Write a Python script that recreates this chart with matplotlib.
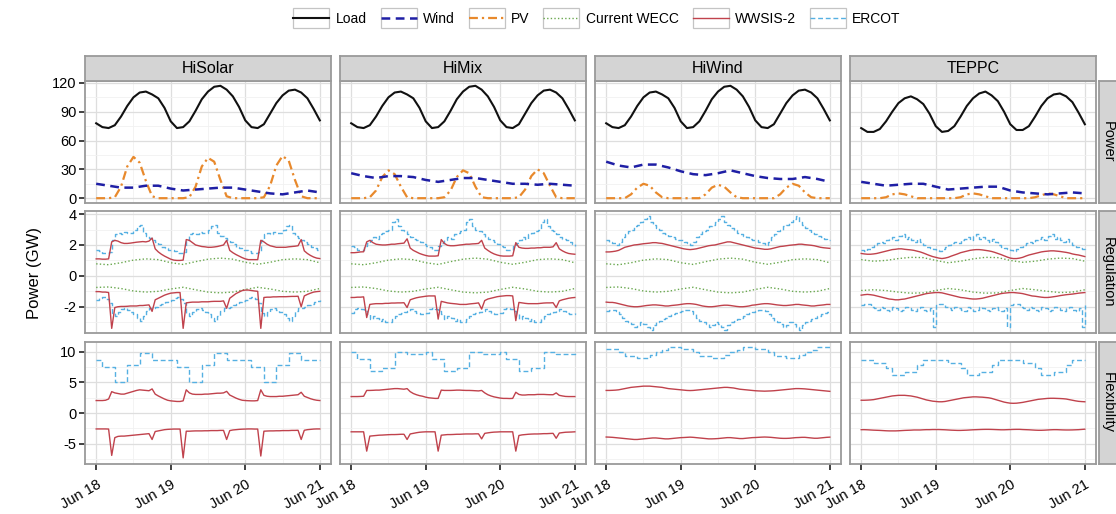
import numpy as np
import matplotlib.pyplot as plt
from matplotlib.lines import Line2D
from matplotlib.patches import Rectangle
from matplotlib.legend_handler import HandlerLine2D
from matplotlib.ticker import AutoMinorLocator

plt.rcParams['font.family'] = ['Liberation Sans', 'DejaVu Sans']

scenarios = ['HiSolar', 'HiMix', 'HiWind', 'TEPPC']
row_names = ['Power', 'Regulation', 'Flexibility']
day_labels = ['Jun 18', 'Jun 19', 'Jun 20', 'Jun 21']

# time stamps (hours from Jun 18 00:00)
hrs_1h = np.arange(0, 73)
hrs_2h = np.arange(0, 73, 2)
hrs_4h = np.arange(0, 73, 4)

# ---------------- Power (GW), 2-hourly / 4-hourly ----------------
load_wecc = [78, 74, 73, 76, 85, 96, 105, 110, 111, 108, 104, 94,
             80, 73, 74, 80, 91, 103, 111, 116, 117, 113, 106, 95,
             81, 74, 73, 77, 88, 99, 107, 112, 113, 110, 104, 93, 81]
load_teppc = [73, 69, 69, 72, 80, 90, 99, 104, 106, 103, 98, 88,
              75, 69, 70, 75, 85, 96, 104, 109, 111, 107, 101, 90,
              77, 71, 71, 75, 85, 96, 104, 108, 109, 106, 100, 89, 77]

wind_hisolar = [15, 13, 11, 11, 13, 13, 10, 8, 9, 10, 11, 11, 9, 7, 5, 4, 6, 8, 6]
wind_himix = [26, 23, 21, 23, 23, 22, 19, 17, 19, 21, 21, 19, 17, 15, 15, 14, 15, 14, 13]
wind_hiwind = [38, 34, 32, 35, 35, 32, 28, 25, 24, 26, 29, 26, 23, 21, 20, 20, 22, 20, 17]
wind_teppc = [17, 15, 13, 14, 15, 15, 12, 9, 10, 11, 12, 12, 8, 6, 5, 4, 5, 6, 5]

pv_hisolar = [0, 0, 0, 1, 12, 33, 43, 37, 18, 2, 0, 0,
              0, 0, 0, 1, 12, 33, 42, 38, 19, 2, 0, 0,
              0, 0, 0, 1, 13, 34, 44, 39, 19, 2, 0, 0, 0]
pv_himix = [0, 0, 0, 1, 8, 22, 29, 25, 12, 1, 0, 0,
            0, 0, 0, 1, 8, 22, 29, 26, 12, 1, 0, 0,
            0, 0, 0, 1, 9, 23, 30, 26, 13, 1, 0, 0, 0]
pv_hiwind = [0, 0, 0, 0, 4, 11, 15, 13, 6, 1, 0, 0,
             0, 0, 0, 0, 4, 11, 14, 12, 6, 1, 0, 0,
             0, 0, 0, 0, 4, 11, 15, 13, 6, 1, 0, 0, 0]
pv_teppc = [0, 0, 0, 0, 1, 4, 5, 4, 2, 0, 0, 0,
            0, 0, 0, 0, 1, 4, 5, 4, 2, 0, 0, 0,
            0, 0, 0, 0, 1, 3, 5, 4, 2, 0, 0, 0, 0]

# ---------------- Regulation (GW) ----------------
# Current WECC, 4-hourly
wecc_up = [0.78, 0.72, 0.85, 1.02, 1.10, 1.05, 0.85, 0.74, 0.92, 1.08,
           1.15, 1.08, 0.88, 0.75, 0.88, 1.05, 1.10, 1.05, 0.85]
wecc_dn = [-0.75, -0.72, -0.82, -0.98, -1.05, -1.00, -0.85, -0.74, -0.90, -1.05,
           -1.10, -1.05, -0.88, -0.74, -0.85, -1.00, -1.05, -1.00, -0.82]
wecc_up_teppc = [1.05, 0.95, 1.00, 1.12, 1.20, 1.18, 1.00, 0.85, 0.95, 1.10,
                 1.20, 1.18, 1.00, 0.88, 0.95, 1.08, 1.15, 1.12, 0.95]
wecc_dn_teppc = [-0.95, -0.90, -0.95, -1.05, -1.12, -1.10, -0.95, -0.82, -0.90, -1.05,
                 -1.12, -1.10, -0.95, -0.82, -0.90, -1.00, -1.08, -1.05, -0.90]

# WWSIS-2, hourly
reg_up_hisolar = [1.10, 1.10, 1.08, 1.08, 1.10, 2.20, 2.30, 2.25, 2.15, 2.10, 2.10, 2.12,
                  2.15, 2.18, 2.20, 2.22, 2.20, 2.25, 2.45, 1.75, 1.55, 1.40, 1.28, 1.18,
                  1.08, 1.02, 1.00, 1.00, 1.02, 2.35, 2.30, 2.15, 2.00, 1.95, 1.90, 1.88,
                  1.85, 1.85, 1.87, 1.90, 1.95, 2.00, 2.30, 1.65, 1.50, 1.38, 1.28, 1.18,
                  1.10, 1.05, 1.05, 1.05, 1.05, 2.30, 2.20, 2.05, 1.95, 1.90, 1.85, 1.85,
                  1.85, 1.85, 1.88, 1.90, 1.92, 1.95, 2.35, 1.62, 1.45, 1.32, 1.22, 1.15, 1.12]
reg_dn_hisolar = [-1.02, -1.02, -1.05, -1.05, -1.08, -3.40, -2.05, -2.00, -1.98, -1.98, -1.97, -1.95,
                  -1.95, -1.95, -1.92, -1.92, -1.90, -1.88, -2.30, -1.55, -1.45, -1.35, -1.25, -1.18,
                  -1.12, -1.10, -1.08, -1.08, -3.40, -1.75, -1.72, -1.70, -1.70, -1.70, -1.68, -1.68,
                  -1.68, -1.66, -1.65, -1.65, -1.65, -1.62, -2.10, -1.45, -1.30, -1.15, -1.05, -0.95,
                  -0.92, -0.92, -0.95, -0.98, -1.00, -3.40, -1.40, -1.38, -1.38, -1.36, -1.36, -1.35,
                  -1.35, -1.35, -1.34, -1.33, -1.33, -1.32, -2.00, -1.30, -1.20, -1.12, -1.05, -1.02, -1.00]
reg_up_himix = [1.50, 1.50, 1.52, 1.55, 1.56, 2.20, 2.30, 2.15, 2.05, 2.02, 2.00, 2.00,
                2.02, 2.05, 2.05, 2.08, 2.10, 2.12, 2.40, 1.80, 1.65, 1.55, 1.45, 1.38,
                1.32, 1.28, 1.28, 1.28, 1.30, 2.35, 2.10, 1.98, 1.95, 1.95, 1.97, 2.00,
                2.02, 2.05, 2.05, 2.07, 2.08, 2.10, 2.30, 1.80, 1.65, 1.52, 1.42, 1.35,
                1.30, 1.28, 1.28, 1.28, 1.30, 2.15, 1.85, 1.80, 1.78, 1.78, 1.80, 1.80,
                1.82, 1.82, 1.85, 1.85, 1.85, 1.88, 2.15, 1.75, 1.62, 1.52, 1.45, 1.42, 1.40]
reg_dn_himix = [-1.40, -1.40, -1.38, -1.38, -1.36, -2.70, -1.85, -1.82, -1.80, -1.80, -1.80, -1.78,
                -1.78, -1.76, -1.76, -1.75, -1.75, -1.74, -2.05, -1.55, -1.48, -1.42, -1.38, -1.35,
                -1.32, -1.30, -1.30, -1.30, -2.80, -1.65, -1.70, -1.75, -1.78, -1.80, -1.82, -1.85,
                -1.85, -1.85, -1.82, -1.80, -1.78, -1.75, -2.15, -1.60, -1.50, -1.45, -1.40, -1.35,
                -1.32, -1.30, -1.28, -1.28, -1.30, -2.90, -1.72, -1.75, -1.78, -1.80, -1.80, -1.80,
                -1.80, -1.78, -1.76, -1.75, -1.75, -1.74, -2.05, -1.62, -1.55, -1.50, -1.45, -1.42, -1.40]
reg_up_hiwind = [1.55, 1.55, 1.57, 1.60, 1.65, 1.75, 1.85, 1.90, 1.95, 2.00, 2.02, 2.05,
                 2.08, 2.10, 2.12, 2.15, 2.15, 2.12, 2.10, 2.05, 2.00, 1.95, 1.90, 1.85,
                 1.80, 1.75, 1.72, 1.70, 1.72, 1.75, 1.80, 1.85, 1.90, 1.95, 1.98, 2.00,
                 2.05, 2.10, 2.15, 2.20, 2.20, 2.15, 2.10, 2.05, 2.00, 1.95, 1.90, 1.85,
                 1.80, 1.78, 1.75, 1.72, 1.72, 1.75, 1.80, 1.85, 1.90, 1.92, 1.95, 1.98,
                 2.00, 2.02, 2.05, 2.05, 2.02, 2.00, 1.98, 1.95, 1.90, 1.85, 1.82, 1.80, 1.78]
reg_dn_hiwind = [-1.70, -1.72, -1.72, -1.75, -1.80, -1.85, -1.90, -1.95, -1.98, -2.00, -2.00, -1.98,
                 -1.95, -1.92, -1.90, -1.88, -1.88, -1.90, -1.92, -1.95, -1.95, -1.92, -1.90, -1.88,
                 -1.85, -1.82, -1.80, -1.80, -1.82, -1.85, -1.90, -1.95, -1.98, -2.00, -2.00, -1.98,
                 -1.95, -1.92, -1.90, -1.90, -1.92, -1.95, -1.98, -2.00, -2.00, -1.98, -1.95, -1.90,
                 -1.88, -1.85, -1.82, -1.80, -1.80, -1.82, -1.85, -1.88, -1.90, -1.92, -1.92, -1.90,
                 -1.88, -1.85, -1.85, -1.88, -1.90, -1.92, -1.95, -1.95, -1.92, -1.90, -1.88, -1.85, -1.85]
reg_up_teppc = [1.45, 1.42, 1.40, 1.40, 1.42, 1.45, 1.50, 1.55, 1.60, 1.65, 1.70, 1.72,
                1.75, 1.75, 1.72, 1.70, 1.68, 1.65, 1.60, 1.55, 1.48, 1.40, 1.32, 1.25,
                1.20, 1.15, 1.12, 1.15, 1.20, 1.28, 1.35, 1.42, 1.50, 1.55, 1.60, 1.65,
                1.68, 1.70, 1.70, 1.68, 1.65, 1.62, 1.58, 1.52, 1.45, 1.38, 1.30, 1.22,
                1.15, 1.12, 1.12, 1.15, 1.20, 1.28, 1.35, 1.40, 1.45, 1.50, 1.55, 1.58,
                1.60, 1.62, 1.62, 1.60, 1.58, 1.55, 1.52, 1.48, 1.42, 1.38, 1.35, 1.30, 1.25]
reg_dn_teppc = [-1.25, -1.22, -1.20, -1.22, -1.25, -1.30, -1.35, -1.40, -1.45, -1.50, -1.52, -1.55,
                -1.55, -1.52, -1.50, -1.45, -1.40, -1.35, -1.30, -1.25, -1.20, -1.15, -1.12, -1.10,
                -1.08, -1.08, -1.10, -1.15, -1.20, -1.25, -1.30, -1.35, -1.40, -1.42, -1.45, -1.48,
                -1.50, -1.50, -1.48, -1.45, -1.40, -1.35, -1.30, -1.25, -1.20, -1.15, -1.12, -1.10,
                -1.08, -1.08, -1.10, -1.12, -1.15, -1.20, -1.25, -1.30, -1.32, -1.35, -1.38, -1.40,
                -1.40, -1.38, -1.35, -1.32, -1.28, -1.25, -1.22, -1.20, -1.18, -1.15, -1.12, -1.10, -1.08]

# ERCOT hour-of-day profiles (same every day)
ercot_up_hisolar = [1.67, 1.60, 1.46, 1.46, 1.55, 2.30, 2.70, 2.80, 2.70, 2.85, 2.75, 2.80,
                    2.95, 3.25, 3.30, 2.80, 2.60, 2.45, 2.30, 2.20, 2.05, 1.90, 1.80, 1.70]
ercot_dn_hisolar = [-1.55, -1.45, -1.35, -1.50, -1.75, -2.40, -2.60, -2.35, -2.15, -2.10, -2.20, -2.35,
                    -2.50, -2.70, -2.90, -2.60, -2.30, -2.10, -2.05, -2.00, -1.90, -1.80, -1.70, -1.60]
ercot_up_himix = [1.93, 1.85, 1.65, 1.70, 1.93, 2.10, 2.30, 2.50, 2.40, 2.70, 2.75, 2.90,
                  3.00, 3.50, 3.70, 3.20, 3.00, 2.90, 2.70, 2.50, 2.40, 2.30, 2.20, 2.05]
ercot_dn_himix = [-2.40, -2.15, -2.05, -2.15, -2.25, -2.50, -2.80, -2.60, -2.70, -2.90, -2.80, -3.00,
                  -3.00, -2.80, -2.60, -2.50, -2.40, -2.35, -2.25, -2.15, -2.25, -2.40, -2.50, -2.45]
ercot_up_hiwind = [2.30, 2.20, 2.10, 2.00, 2.20, 2.50, 2.70, 2.90, 3.00, 3.20, 3.30, 3.50,
                   3.70, 3.90, 3.50, 3.30, 3.10, 3.00, 2.80, 2.70, 2.60, 2.50, 2.40, 2.35]
ercot_dn_hiwind = [-2.30, -2.20, -2.20, -2.30, -2.50, -2.70, -2.90, -3.00, -3.10, -3.30, -3.20, -3.00,
                   -3.10, -3.30, -3.50, -3.20, -3.00, -2.90, -2.80, -2.70, -2.60, -2.50, -2.40, -2.35]
ercot_up_teppc = [1.70, 1.60, 1.75, 1.90, 2.00, 2.10, 2.20, 2.10, 2.30, 2.40, 2.50, 2.30,
                  2.60, 2.70, 2.40, 2.50, 2.30, 2.20, 2.40, 2.20, 2.00, 1.90, 1.80, 1.75]
ercot_dn_teppc = [-1.90, -1.80, -1.85, -2.00, -2.10, -2.20, -2.00, -2.10, -2.20, -2.30, -2.00, -2.10,
                  -2.30, -2.20, -2.00, -2.10, -2.20, -2.30, -2.10, -2.00, -2.20, -2.30, -2.10, -3.30]

# ---------------- Flexibility (GW) ----------------
flex_up_hisolar = [2.05, 2.05, 2.05, 2.10, 2.30, 3.50, 3.30, 3.20, 3.10, 3.10, 3.25, 3.40,
                   3.55, 3.70, 3.80, 3.75, 3.70, 3.65, 3.95, 3.10, 2.80, 2.55, 2.30, 2.10,
                   2.00, 1.95, 1.90, 1.90, 2.00, 3.80, 3.30, 3.10, 3.05, 3.05, 3.05, 3.10,
                   3.10, 3.15, 3.20, 3.25, 3.25, 3.30, 3.55, 2.95, 2.70, 2.45, 2.25, 2.10,
                   2.05, 2.02, 2.00, 2.00, 2.05, 3.80, 2.90, 2.75, 2.70, 2.70, 2.70, 2.75,
                   2.75, 2.80, 2.85, 2.90, 2.95, 3.00, 3.40, 2.75, 2.55, 2.35, 2.20, 2.10, 2.05]
flex_dn_hisolar = [-2.58, -2.58, -2.58, -2.58, -2.60, -6.90, -4.00, -3.80, -3.75, -3.75, -3.70, -3.65,
                   -3.60, -3.55, -3.50, -3.45, -3.40, -3.35, -4.30, -3.00, -2.90, -2.80, -2.70, -2.65,
                   -2.62, -2.60, -2.60, -2.60, -7.30, -2.95, -2.95, -2.92, -2.90, -2.90, -2.90, -2.88,
                   -2.88, -2.85, -2.85, -2.85, -2.82, -2.82, -4.30, -2.85, -2.75, -2.70, -2.65, -2.62,
                   -2.60, -2.58, -2.58, -2.60, -2.60, -7.00, -2.95, -2.92, -2.90, -2.90, -2.88, -2.88,
                   -2.85, -2.85, -2.85, -2.82, -2.82, -2.80, -4.30, -2.80, -2.70, -2.65, -2.60, -2.58, -2.58]
flex_up_himix = [2.70, 2.70, 2.70, 2.72, 2.75, 3.70, 3.70, 3.72, 3.75, 3.75, 3.80, 3.85,
                 3.90, 3.95, 4.00, 4.00, 3.95, 3.90, 4.00, 3.50, 3.20, 3.00, 2.85, 2.75,
                 2.60, 2.50, 2.45, 2.40, 2.40, 3.75, 3.70, 3.70, 3.70, 3.72, 3.75, 3.75,
                 3.72, 3.70, 3.70, 3.68, 3.65, 3.62, 3.70, 3.30, 3.00, 2.80, 2.65, 2.55,
                 2.45, 2.40, 2.40, 2.38, 2.40, 3.40, 3.05, 2.95, 2.95, 3.00, 3.00, 3.00,
                 3.05, 3.05, 3.05, 3.02, 3.00, 3.00, 3.30, 2.90, 2.80, 2.72, 2.70, 2.70, 2.70]
flex_dn_himix = [-3.05, -3.05, -3.05, -3.05, -3.05, -6.20, -3.75, -3.70, -3.65, -3.60, -3.58, -3.55,
                 -3.52, -3.50, -3.50, -3.48, -3.45, -3.45, -4.30, -3.40, -3.30, -3.20, -3.12, -3.08,
                 -3.05, -3.05, -3.05, -3.05, -6.20, -3.60, -3.55, -3.50, -3.50, -3.48, -3.45, -3.45,
                 -3.42, -3.40, -3.40, -3.40, -3.38, -3.38, -4.20, -3.30, -3.22, -3.15, -3.10, -3.08,
                 -3.05, -3.05, -3.05, -3.05, -3.05, -6.20, -3.65, -3.55, -3.50, -3.45, -3.42, -3.40,
                 -3.40, -3.38, -3.35, -3.35, -3.32, -3.30, -4.10, -3.25, -3.18, -3.12, -3.10, -3.08, -3.05]
flex_up_hiwind = [3.70, 3.70, 3.72, 3.75, 3.80, 3.90, 4.00, 4.10, 4.20, 4.25, 4.30, 4.35,
                  4.40, 4.40, 4.40, 4.35, 4.30, 4.25, 4.20, 4.10, 4.00, 3.95, 3.90, 3.85,
                  3.80, 3.75, 3.70, 3.68, 3.70, 3.75, 3.80, 3.85, 3.90, 3.95, 4.00, 4.05,
                  4.10, 4.15, 4.20, 4.20, 4.15, 4.10, 4.00, 3.90, 3.85, 3.80, 3.75, 3.70,
                  3.65, 3.62, 3.60, 3.58, 3.60, 3.62, 3.65, 3.70, 3.75, 3.80, 3.85, 3.90,
                  3.95, 4.00, 4.00, 3.98, 3.95, 3.90, 3.85, 3.80, 3.75, 3.70, 3.65, 3.60, 3.55]
flex_dn_hiwind = [-3.90, -3.92, -3.95, -4.00, -4.05, -4.10, -4.15, -4.20, -4.25, -4.30, -4.30, -4.25,
                  -4.20, -4.15, -4.10, -4.05, -4.05, -4.10, -4.15, -4.20, -4.20, -4.15, -4.10, -4.05,
                  -4.00, -3.98, -3.95, -3.92, -3.95, -4.00, -4.05, -4.10, -4.15, -4.20, -4.20, -4.18,
                  -4.15, -4.10, -4.05, -4.00, -4.00, -4.05, -4.10, -4.15, -4.15, -4.10, -4.05, -4.00,
                  -3.98, -3.95, -3.92, -3.90, -3.92, -3.95, -4.00, -4.05, -4.10, -4.12, -4.12, -4.10,
                  -4.05, -4.00, -3.98, -3.95, -3.95, -4.00, -4.05, -4.10, -4.10, -4.05, -4.00, -3.95, -3.92]
flex_up_teppc = [2.10, 2.10, 2.12, 2.15, 2.20, 2.30, 2.40, 2.50, 2.60, 2.70, 2.80, 2.85,
                 2.90, 2.90, 2.90, 2.85, 2.80, 2.70, 2.60, 2.45, 2.30, 2.15, 2.05, 1.95,
                 1.90, 1.85, 1.85, 1.90, 2.00, 2.10, 2.20, 2.30, 2.40, 2.50, 2.55, 2.60,
                 2.65, 2.65, 2.62, 2.60, 2.55, 2.50, 2.40, 2.25, 2.10, 1.95, 1.80, 1.70,
                 1.62, 1.60, 1.62, 1.68, 1.75, 1.85, 1.95, 2.05, 2.15, 2.25, 2.30, 2.35,
                 2.40, 2.42, 2.42, 2.40, 2.38, 2.35, 2.30, 2.20, 2.10, 2.00, 1.92, 1.88, 1.85]
flex_dn_teppc = [-2.70, -2.70, -2.72, -2.75, -2.78, -2.80, -2.82, -2.85, -2.88, -2.90, -2.90, -2.90,
                 -2.88, -2.85, -2.82, -2.80, -2.78, -2.75, -2.75, -2.75, -2.72, -2.70, -2.70, -2.68,
                 -2.68, -2.68, -2.70, -2.72, -2.75, -2.78, -2.80, -2.82, -2.82, -2.80, -2.78, -2.75,
                 -2.72, -2.70, -2.68, -2.66, -2.65, -2.65, -2.66, -2.68, -2.70, -2.72, -2.72, -2.70,
                 -2.68, -2.66, -2.65, -2.65, -2.68, -2.70, -2.72, -2.75, -2.78, -2.80, -2.80, -2.78,
                 -2.75, -2.72, -2.70, -2.70, -2.72, -2.74, -2.75, -2.75, -2.74, -2.72, -2.70, -2.66, -2.62]

ercot_flex_hisolar = [8.6, 8.6, 7.5, 7.5, 7.5, 7.5, 5.0, 5.0, 5.0, 5.0, 7.8, 7.8,
                      7.8, 7.8, 9.8, 9.8, 9.8, 9.8, 8.6, 8.6, 8.6, 8.6, 8.6, 8.6]
ercot_flex_himix = [9.9, 9.9, 8.8, 8.8, 8.8, 8.8, 6.8, 6.8, 6.8, 6.8, 7.3, 7.3,
                    7.3, 7.3, 9.9, 9.9, 9.9, 9.9, 9.6, 9.6, 9.6, 9.6, 9.6, 9.6]
ercot_flex_hiwind = [10.5, 10.5, 10.5, 10.5, 10.0, 10.0, 9.3, 9.3, 9.3, 9.3, 9.0, 9.0,
                     9.0, 9.0, 9.5, 9.5, 10.0, 10.0, 10.3, 10.3, 10.8, 10.8, 10.8, 10.8]
ercot_flex_teppc = [8.6, 8.6, 8.6, 8.6, 8.2, 8.2, 8.2, 8.2, 7.4, 7.4, 6.2, 6.2,
                    6.2, 6.2, 6.7, 6.7, 6.7, 6.7, 7.8, 7.8, 8.6, 8.6, 8.6, 8.6]

panel_data = {
    'HiSolar': dict(load=load_wecc, wind=wind_hisolar, pv=pv_hisolar,
                    wup=wecc_up, wdn=wecc_dn, rup=reg_up_hisolar, rdn=reg_dn_hisolar,
                    eup=ercot_up_hisolar, edn=ercot_dn_hisolar,
                    fup=flex_up_hisolar, fdn=flex_dn_hisolar, ef=ercot_flex_hisolar),
    'HiMix': dict(load=load_wecc, wind=wind_himix, pv=pv_himix,
                  wup=wecc_up, wdn=wecc_dn, rup=reg_up_himix, rdn=reg_dn_himix,
                  eup=ercot_up_himix, edn=ercot_dn_himix,
                  fup=flex_up_himix, fdn=flex_dn_himix, ef=ercot_flex_himix),
    'HiWind': dict(load=load_wecc, wind=wind_hiwind, pv=pv_hiwind,
                   wup=wecc_up, wdn=wecc_dn, rup=reg_up_hiwind, rdn=reg_dn_hiwind,
                   eup=ercot_up_hiwind, edn=ercot_dn_hiwind,
                   fup=flex_up_hiwind, fdn=flex_dn_hiwind, ef=ercot_flex_hiwind),
    'TEPPC': dict(load=load_teppc, wind=wind_teppc, pv=pv_teppc,
                  wup=wecc_up_teppc, wdn=wecc_dn_teppc, rup=reg_up_teppc, rdn=reg_dn_teppc,
                  eup=ercot_up_teppc, edn=ercot_dn_teppc,
                  fup=flex_up_teppc, fdn=flex_dn_teppc, ef=ercot_flex_teppc),
}

# styles
c_load, c_wind, c_pv = '#111111', '#1f1fa5', '#e8892c'
c_wecc, c_wwsis, c_ercot = '#6aa84f', '#c0424c', '#55b0e2'
st_load = dict(color=c_load, lw=1.5)
st_wind = dict(color=c_wind, lw=1.8, dashes=(3.5, 2.2))
st_pv = dict(color=c_pv, lw=1.6, dashes=(4, 1.8, 1, 1.8))
st_wecc = dict(color=c_wecc, lw=1.0, dashes=(1, 1.6))
st_wwsis = dict(color=c_wwsis, lw=1.0)
st_ercot = dict(color=c_ercot, lw=1.0, dashes=(3.5, 2))

ylims = [(-5, 122), (-3.7, 4.2), (-8.3, 11.6)]
yticks = [[0, 30, 60, 90, 120], [-2, 0, 2, 4], [-5, 0, 5, 10]]

W, H = 1116, 514
fig = plt.figure(figsize=(W / 100, H / 100), dpi=100)
col_x = [85, 340, 595, 850]
row_y = [81, 211, 342]
pw, ph = 246, 122
edge = '#9a9a9a'
strip_fill = '#d4d4d4'


def box(x, y, w, h):
    return [x / W, 1 - (y + h) / H, w / W, h / H]


def step_series(profile):
    # ERCOT values hold for each whole hour; repeat the hour-of-day profile over 3 days
    vals = np.tile(profile, 3)
    return np.append(vals, profile[0])


class BoxedLine(HandlerLine2D):
    # legend key drawn inside a light grey box, like ggplot keys
    def create_artists(self, legend, orig_handle, xdescent, ydescent, width, height,
                       fontsize, trans):
        arts = super().create_artists(legend, orig_handle, xdescent, ydescent, width,
                                      height, fontsize, trans)
        rect = Rectangle((-xdescent, -ydescent - 0.55 * height), width, 2.1 * height,
                         facecolor='white', edgecolor='#c4c4c4', lw=0.9, transform=trans)
        return [rect] + arts


for c, name in enumerate(scenarios):
    d = panel_data[name]
    for r in range(3):
        ax = fig.add_axes(box(col_x[c], row_y[r], pw, ph))
        if r == 0:
            ax.plot(hrs_2h / 24, d['pv'], **st_pv)
            ax.plot(hrs_4h / 24, d['wind'], **st_wind)
            ax.plot(hrs_2h / 24, d['load'], **st_load)
        elif r == 1:
            ax.plot(hrs_4h / 24, d['wup'], **st_wecc)
            ax.plot(hrs_4h / 24, d['wdn'], **st_wecc)
            ax.plot(hrs_1h / 24, step_series(d['eup']), drawstyle='steps-post', **st_ercot)
            ax.plot(hrs_1h / 24, step_series(d['edn']), drawstyle='steps-post', **st_ercot)
            ax.plot(hrs_1h / 24, d['rup'], **st_wwsis)
            ax.plot(hrs_1h / 24, d['rdn'], **st_wwsis)
        else:
            ax.plot(hrs_1h / 24, step_series(d['ef']), drawstyle='steps-post', **st_ercot)
            ax.plot(hrs_1h / 24, d['fup'], **st_wwsis)
            ax.plot(hrs_1h / 24, d['fdn'], **st_wwsis)

        ax.set_xlim(-0.15, 3.15)
        ax.set_ylim(*ylims[r])
        ax.set_xticks([0, 1, 2, 3])
        ax.set_yticks(yticks[r])
        ax.xaxis.set_minor_locator(AutoMinorLocator(2))
        ax.yaxis.set_minor_locator(AutoMinorLocator(2))
        ax.grid(True, which='major', color='#dedede', lw=0.9)
        ax.grid(True, which='minor', color='#f1f1f1', lw=0.6)
        ax.set_axisbelow(True)
        for s in ax.spines.values():
            s.set_color(edge)
            s.set_linewidth(1.3)
        ax.tick_params(which='minor', length=0)
        ax.tick_params(which='major', direction='out', length=4, width=1.3,
                       color='#333333', labelsize=10.5, pad=2)
        if c == 0:
            ax.set_yticklabels([str(t) for t in yticks[r]])
        else:
            ax.tick_params(axis='y', length=0, labelleft=False)
        if r == 2:
            ax.tick_params(axis='x', pad=6)
            ax.set_xticklabels(day_labels, rotation=30, ha='right', va='top',
                               rotation_mode='anchor')
        else:
            ax.tick_params(axis='x', length=0, labelbottom=False)

    # scenario strip on top
    sx = fig.add_axes(box(col_x[c], 56, pw, 25))
    sx.set_facecolor(strip_fill)
    sx.set_xticks([])
    sx.set_yticks([])
    for s in sx.spines.values():
        s.set_color(edge)
        s.set_linewidth(1.3)
    sx.text(0.5, 0.5, name, ha='center', va='center', fontsize=11.5, transform=sx.transAxes)

# row strips on the right
for r, rn in enumerate(row_names):
    sx = fig.add_axes(box(1099, row_y[r], 18, ph))
    sx.set_facecolor(strip_fill)
    sx.set_xticks([])
    sx.set_yticks([])
    for s in sx.spines.values():
        s.set_color(edge)
        s.set_linewidth(1.3)
    sx.text(0.5, 0.5, rn, ha='center', va='center', rotation=270, fontsize=10.5,
            transform=sx.transAxes)

fig.text(0.031, 0.469, 'Power (GW)', rotation=90, ha='center', va='center', fontsize=12)

handles = [Line2D([], [], **st_load), Line2D([], [], **st_wind), Line2D([], [], **st_pv),
           Line2D([], [], **st_wecc), Line2D([], [], **st_wwsis), Line2D([], [], **st_ercot)]
labels = ['Load', 'Wind', 'PV', 'Current WECC', 'WWSIS-2', 'ERCOT']
fig.legend(handles, labels, loc='center', bbox_to_anchor=(0.535, 0.963), ncol=6,
           frameon=False, fontsize=10, handlelength=2.6, columnspacing=1.0,
           handletextpad=0.45, handler_map={Line2D: BoxedLine()})

fig.savefig('out.png', dpi=100)
